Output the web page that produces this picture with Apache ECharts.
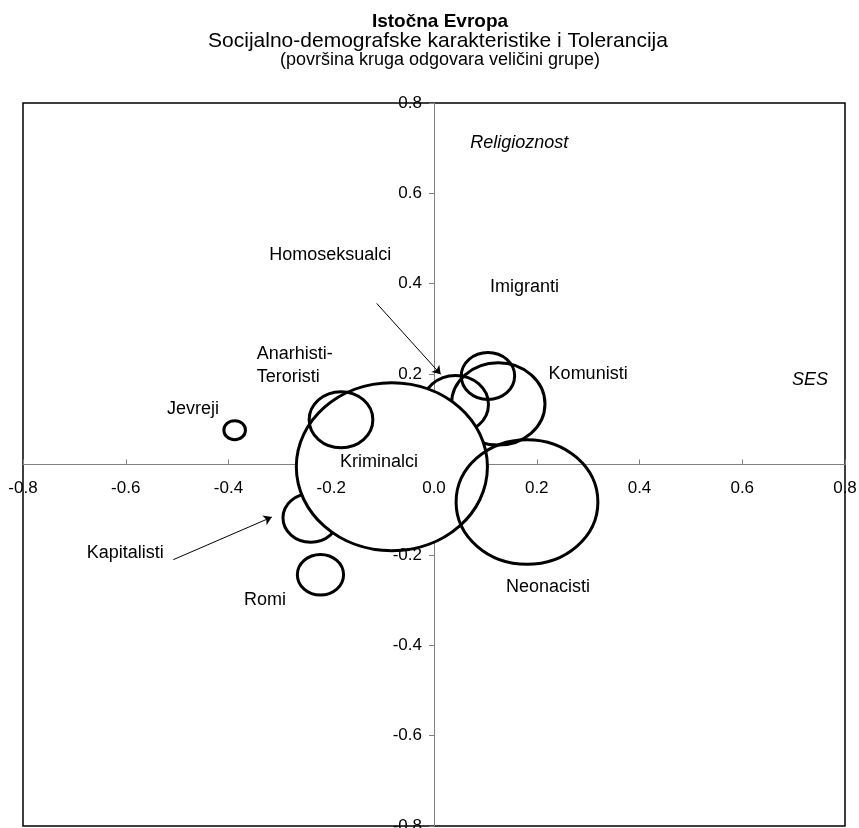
<!DOCTYPE html>
<html>
<head>
<meta charset="utf-8">
<script src="https://cdn.jsdelivr.net/npm/echarts@6/dist/echarts.min.js"></script>
<style>
html,body{margin:0;padding:0;background:#fff;}
#chart{width:859px;height:828px;}
</style>
</head>
<body>
<div id="chart"></div>
<script>
// ---- data (drawing order: first drawn lies underneath) ----
const groups = ['Homoseksualci', 'Komunisti', 'Imigranti', 'Kapitalisti', 'Kriminalci', 'Anarhisti-Teroristi', 'Neonacisti', 'Romi', 'Jevreji'];
const ses = [0.042, 0.125, 0.105, -0.240, -0.082, -0.181, 0.181, -0.221, -0.388];
const religioznost = [0.133, 0.134, 0.196, -0.118, -0.005, 0.099, -0.083, -0.244, 0.076];
const radius = [0.064, 0.091, 0.052, 0.054, 0.186, 0.062, 0.138, 0.045, 0.021];

// group labels (anchor in data coordinates)
const labelTexts = ['Homoseksualci', 'Imigranti', 'Anarhisti-\nTeroristi', 'Komunisti', 'Jevreji', 'Kriminalci', 'Kapitalisti', 'Romi', 'Neonacisti'];
const labelX = [-0.202, 0.176, -0.345, 0.300, -0.469, -0.107, -0.601, -0.329, 0.222];
const labelY = [0.464, 0.393, 0.219, 0.200, 0.123, 0.005, -0.195, -0.300, -0.271];

// axis dimension names
const dimTexts = ['Religioznost', 'SES'];
const dimX = [0.166, 0.732];
const dimY = [0.712, 0.186];

// arrows
const arrowStart = [[-0.1115, 0.3565], [-0.5074, -0.2106]];
const arrowEnd = [[0.013, 0.1996], [-0.3157, -0.1164]];

// axes
const axisMin = -0.8, axisMax = 0.8, axisStep = 0.2;

const titleLines = ['Istočna Evropa', 'Socijalno-demografske karakteristike i Tolerancija', '(površina kruga odgovara veličini grupe)'];

// ---- chart ----
const FONT = '"Liberation Sans", Arial, sans-serif';
const fmt = v => Math.abs(v) < 1e-9 ? '0.0' : v.toFixed(1);
const fmtY = v => Math.abs(v) < 1e-9 ? '' : v.toFixed(1);

function baseAxis(extra) {
  return Object.assign({
    type: 'value', min: axisMin, max: axisMax, interval: axisStep,
    splitLine: { show: false }
  }, extra);
}

const chart = echarts.init(document.getElementById('chart'));
chart.setOption({
  animation: false,
  backgroundColor: '#fff',
  grid: {
    left: 23, right: 14, top: 103, bottom: 2,
    containLabel: false, outerBoundsMode: 'none',
    show: true, borderColor: '#000', borderWidth: 1.5, backgroundColor: 'transparent'
  },
  graphic: [
    { type: 'text', x: 440, y: 22, style: { text: titleLines[0], font: 'bold 19px ' + FONT, fill: '#000', align: 'center', verticalAlign: 'middle' } },
    { type: 'text', x: 438, y: 41, style: { text: titleLines[1], font: '21px ' + FONT, fill: '#000', align: 'center', verticalAlign: 'middle' } },
    { type: 'text', x: 440, y: 60, style: { text: titleLines[2], font: '18px ' + FONT, fill: '#000', align: 'center', verticalAlign: 'middle' } }
  ],
  xAxis: [
    baseAxis({
      position: 'bottom', z: 0,
      axisLine: { show: true, onZero: true, lineStyle: { color: '#808080', width: 1 } },
      axisTick: { show: true, inside: true, length: 5, lineStyle: { color: '#808080', width: 1 } },
      axisLabel: { show: false }
    }),
    baseAxis({
      position: 'bottom', z: 10, offset: 0,
      axisLine: { show: false, onZero: false },
      axisTick: { show: false },
      axisLabel: { show: true, margin: 15, color: '#000', fontSize: 17, fontFamily: FONT, formatter: fmt, showMinLabel: true, showMaxLabel: true }
    })
  ],
  yAxis: [
    baseAxis({
      position: 'left', z: 0,
      axisLine: { show: true, onZero: true, lineStyle: { color: '#808080', width: 1 } },
      axisTick: { show: true, inside: false, length: 5, lineStyle: { color: '#808080', width: 1 } },
      axisLabel: { show: false }
    }),
    baseAxis({
      position: 'left', z: 10, offset: 0,
      axisLine: { show: false, onZero: false },
      axisTick: { show: false },
      axisLabel: { show: true, margin: 12, color: '#000', fontSize: 17, fontFamily: FONT, formatter: fmtY, showMinLabel: true, showMaxLabel: true }
    })
  ],
  series: [
    {
      type: 'custom', name: 'Grupe', coordinateSystem: 'cartesian2d', xAxisIndex: 0, yAxisIndex: 0,
      z: 2, silent: true,
      data: groups.map((g, i) => ({ name: g, value: [ses[i], religioznost[i], radius[i]] })),
      renderItem: function (params, api) {
        const x = api.value(0), y = api.value(1), r = api.value(2);
        const c = api.coord([x, y]);
        const s = api.size([r, r], [x, y]);
        const filled = groups[params.dataIndex] === 'Kriminalci';
        return {
          type: 'ellipse',
          shape: { cx: c[0], cy: c[1], rx: s[0], ry: s[1] },
          style: { fill: filled ? '#fff' : 'none', stroke: '#000', lineWidth: 3 }
        };
      }
    },
    {
      type: 'lines', coordinateSystem: 'cartesian2d', xAxisIndex: 0, yAxisIndex: 0,
      z: 4, silent: true,
      symbol: ['none', 'arrow'], symbolSize: 8,
      lineStyle: { color: '#000', width: 1, opacity: 1, curveness: 0 },
      data: arrowStart.map((s, i) => ({ coords: [s, arrowEnd[i]] }))
    },
    {
      type: 'custom', name: 'Oznake', coordinateSystem: 'cartesian2d', xAxisIndex: 0, yAxisIndex: 0,
      z: 6, silent: true,
      data: labelTexts.map((t, i) => ({ name: t, value: [labelX[i], labelY[i]] })),
      renderItem: function (params, api) {
        const c = api.coord([api.value(0), api.value(1)]);
        const t = labelTexts[params.dataIndex];
        const multi = t.indexOf('\n') >= 0;
        return {
          type: 'text', x: c[0], y: c[1],
          style: { text: t, font: '18px ' + FONT, fill: '#000', align: multi ? 'left' : 'center', verticalAlign: 'middle', lineHeight: 23 }
        };
      }
    },
    {
      type: 'custom', name: 'Dimenzije', coordinateSystem: 'cartesian2d', xAxisIndex: 0, yAxisIndex: 0,
      z: 6, silent: true,
      data: dimTexts.map((t, i) => ({ name: t, value: [dimX[i], dimY[i]] })),
      renderItem: function (params, api) {
        const c = api.coord([api.value(0), api.value(1)]);
        return {
          type: 'text', x: c[0], y: c[1],
          style: { text: dimTexts[params.dataIndex], font: 'italic 18px ' + FONT, fill: '#000', align: 'center', verticalAlign: 'middle' }
        };
      }
    }
  ]
});

// Move the label-only axes onto the zero lines, using the library's own scales.
const zeroPx = chart.convertToPixel({ seriesIndex: 0 }, [0, 0]);
const cornerPx = chart.convertToPixel({ seriesIndex: 0 }, [axisMin, axisMin]);
chart.setOption({
  xAxis: [{}, { offset: -(cornerPx[1] - zeroPx[1]) }],
  yAxis: [{}, { offset: -(zeroPx[0] - cornerPx[0]) }]
});
</script>
</body>
</html>
